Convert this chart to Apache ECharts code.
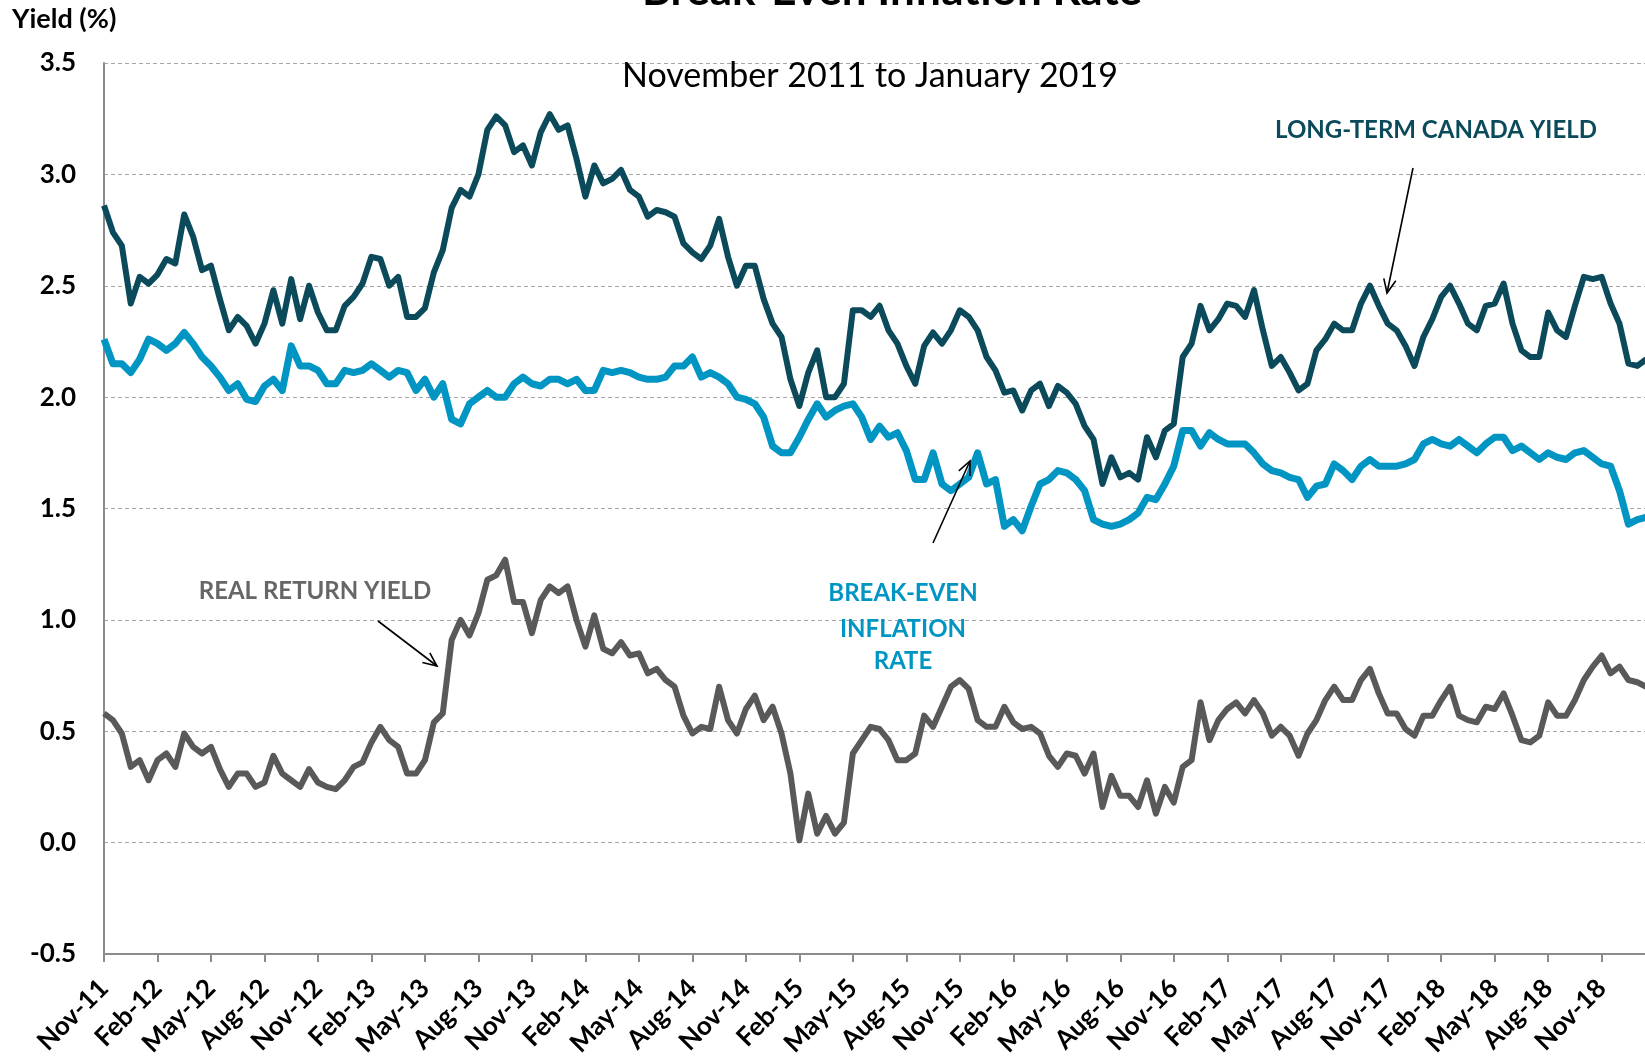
<!DOCTYPE html>
<html>
<head>
<meta charset="utf-8">
<title>Break-Even Inflation Rate</title>
<script src="https://cdn.jsdelivr.net/npm/echarts@6/dist/echarts.min.js"></script>
<style>
  html, body { margin: 0; padding: 0; background: #fff; }
  #chart { width: 1645px; height: 1061px; }
</style>
</head>
<body>
<div id="chart"></div>
<script>
// x tick labels, one every 3 months starting Nov 2011
const tickLabels = [
  'Nov-11', 'Feb-12', 'May-12', 'Aug-12', 'Nov-12', 'Feb-13', 'May-13', 'Aug-13',
  'Nov-13', 'Feb-14', 'May-14', 'Aug-14', 'Nov-14', 'Feb-15', 'May-15', 'Aug-15',
  'Nov-15', 'Feb-16', 'May-16', 'Aug-16', 'Nov-16', 'Feb-17', 'May-17', 'Aug-17',
  'Nov-17', 'Feb-18', 'May-18', 'Aug-18', 'Nov-18'
];

// readings every half month from Nov 2011 (one row = 6 months)
const ltcYield = [
  2.86, 2.74, 2.68, 2.42, 2.54, 2.51, 2.55, 2.62, 2.60, 2.82, 2.72, 2.57,
  2.59, 2.44, 2.30, 2.36, 2.32, 2.24, 2.33, 2.48, 2.33, 2.53, 2.35, 2.50,
  2.38, 2.30, 2.30, 2.41, 2.45, 2.51, 2.63, 2.62, 2.50, 2.54, 2.36, 2.36,
  2.40, 2.56, 2.66, 2.85, 2.93, 2.90, 3.00, 3.20, 3.26, 3.22, 3.10, 3.13,
  3.04, 3.19, 3.27, 3.20, 3.22, 3.07, 2.90, 3.04, 2.96, 2.98, 3.02, 2.93,
  2.90, 2.81, 2.84, 2.83, 2.81, 2.69, 2.65, 2.62, 2.68, 2.80, 2.63, 2.50,
  2.59, 2.59, 2.44, 2.33, 2.27, 2.08, 1.96, 2.11, 2.21, 2.00, 2.00, 2.06,
  2.39, 2.39, 2.36, 2.41, 2.30, 2.24, 2.14, 2.06, 2.23, 2.29, 2.24, 2.30,
  2.39, 2.36, 2.30, 2.18, 2.12, 2.02, 2.03, 1.94, 2.03, 2.06, 1.96, 2.05,
  2.02, 1.97, 1.87, 1.81, 1.61, 1.73, 1.64, 1.66, 1.63, 1.82, 1.73, 1.85,
  1.88, 2.18, 2.24, 2.41, 2.30, 2.35, 2.42, 2.41, 2.36, 2.48, 2.30, 2.14,
  2.18, 2.11, 2.03, 2.06, 2.21, 2.26, 2.33, 2.30, 2.30, 2.42, 2.50, 2.41,
  2.33, 2.30, 2.23, 2.14, 2.27, 2.35, 2.45, 2.50, 2.42, 2.33, 2.30, 2.41,
  2.42, 2.51, 2.33, 2.21, 2.18, 2.18, 2.38, 2.30, 2.27, 2.41, 2.54, 2.53,
  2.54, 2.42, 2.33, 2.15, 2.14, 2.17
];

const breakEven = [
  2.26, 2.15, 2.15, 2.11, 2.17, 2.26, 2.24, 2.21, 2.24, 2.29, 2.24, 2.18,
  2.14, 2.09, 2.03, 2.06, 1.99, 1.98, 2.05, 2.08, 2.03, 2.23, 2.14, 2.14,
  2.12, 2.06, 2.06, 2.12, 2.11, 2.12, 2.15, 2.12, 2.09, 2.12, 2.11, 2.03,
  2.08, 2.00, 2.06, 1.90, 1.88, 1.97, 2.00, 2.03, 2.00, 2.00, 2.06, 2.09,
  2.06, 2.05, 2.08, 2.08, 2.06, 2.08, 2.03, 2.03, 2.12, 2.11, 2.12, 2.11,
  2.09, 2.08, 2.08, 2.09, 2.14, 2.14, 2.18, 2.09, 2.11, 2.09, 2.06, 2.00,
  1.99, 1.97, 1.91, 1.78, 1.75, 1.75, 1.82, 1.90, 1.97, 1.91, 1.94, 1.96,
  1.97, 1.91, 1.81, 1.87, 1.82, 1.84, 1.76, 1.63, 1.63, 1.75, 1.61, 1.58,
  1.61, 1.64, 1.75, 1.61, 1.63, 1.42, 1.45, 1.40, 1.51, 1.61, 1.63, 1.67,
  1.66, 1.63, 1.58, 1.45, 1.43, 1.42, 1.43, 1.45, 1.48, 1.55, 1.54, 1.61,
  1.69, 1.85, 1.85, 1.78, 1.84, 1.81, 1.79, 1.79, 1.79, 1.75, 1.70, 1.67,
  1.66, 1.64, 1.63, 1.55, 1.60, 1.61, 1.70, 1.67, 1.63, 1.69, 1.72, 1.69,
  1.69, 1.69, 1.70, 1.72, 1.79, 1.81, 1.79, 1.78, 1.81, 1.78, 1.75, 1.79,
  1.82, 1.82, 1.76, 1.78, 1.75, 1.72, 1.75, 1.73, 1.72, 1.75, 1.76, 1.73,
  1.70, 1.69, 1.58, 1.43, 1.45, 1.46
];

const realReturn = [
  0.58, 0.55, 0.49, 0.34, 0.37, 0.28, 0.37, 0.40, 0.34, 0.49, 0.43, 0.40,
  0.43, 0.33, 0.25, 0.31, 0.31, 0.25, 0.27, 0.39, 0.31, 0.28, 0.25, 0.33,
  0.27, 0.25, 0.24, 0.28, 0.34, 0.36, 0.45, 0.52, 0.46, 0.43, 0.31, 0.31,
  0.37, 0.54, 0.58, 0.91, 1.00, 0.93, 1.03, 1.18, 1.20, 1.27, 1.08, 1.08,
  0.94, 1.09, 1.15, 1.12, 1.15, 1.00, 0.88, 1.02, 0.87, 0.85, 0.90, 0.84,
  0.85, 0.76, 0.78, 0.73, 0.70, 0.57, 0.49, 0.52, 0.51, 0.70, 0.55, 0.49,
  0.60, 0.66, 0.55, 0.61, 0.49, 0.31, 0.01, 0.22, 0.04, 0.12, 0.04, 0.09,
  0.40, 0.46, 0.52, 0.51, 0.46, 0.37, 0.37, 0.40, 0.57, 0.52, 0.61, 0.70,
  0.73, 0.69, 0.55, 0.52, 0.52, 0.61, 0.54, 0.51, 0.52, 0.49, 0.39, 0.34,
  0.40, 0.39, 0.31, 0.40, 0.16, 0.30, 0.21, 0.21, 0.16, 0.28, 0.13, 0.25,
  0.18, 0.34, 0.37, 0.63, 0.46, 0.55, 0.60, 0.63, 0.58, 0.64, 0.58, 0.48,
  0.52, 0.48, 0.39, 0.49, 0.55, 0.64, 0.70, 0.64, 0.64, 0.73, 0.78, 0.67,
  0.58, 0.58, 0.51, 0.48, 0.57, 0.57, 0.64, 0.70, 0.57, 0.55, 0.54, 0.61,
  0.60, 0.67, 0.57, 0.46, 0.45, 0.48, 0.63, 0.57, 0.57, 0.64, 0.73, 0.79,
  0.84, 0.76, 0.79, 0.73, 0.72, 0.70
];

const STEP = 0.5; // months between readings
const toPoints = values => values.map((v, i) => [i * STEP, v]);

const colors = {
  ltc: '#0a4a5a',
  be: '#0095c2',
  rrb: '#595959',
  axis: '#8c8c8c',
  grid: '#a6a6a6'
};

// thin black arrow: shaft plus open head
function arrow(x1, y1, x2, y2) {
  const ang = Math.atan2(y2 - y1, x2 - x1);
  const len = 15, spread = 0.42;
  const head = [
    [x2 - len * Math.cos(ang - spread), y2 - len * Math.sin(ang - spread)],
    [x2, y2],
    [x2 - len * Math.cos(ang + spread), y2 - len * Math.sin(ang + spread)]
  ];
  return [
    { type: 'line', shape: { x1, y1, x2, y2 }, style: { stroke: '#000', lineWidth: 1.6 }, z: 10 },
    { type: 'polyline', shape: { points: head }, style: { stroke: '#000', lineWidth: 1.6, fill: null }, z: 10 }
  ];
}

function label(text, x, y, fill, size) {
  return {
    type: 'text', x, y, z: 10,
    style: { text, fill, font: `bold ${size}px Lato`, align: 'center', verticalAlign: 'middle' }
  };
}

const chart = echarts.init(document.getElementById('chart'));

const option = {
  animation: false,
  backgroundColor: '#fff',
  grid: { left: 104, right: 0, top: 63, bottom: 107, containLabel: false },
  xAxis: {
    type: 'value',
    min: 0,
    max: 86.43,
    interval: 3,
    axisLine: { onZero: false, lineStyle: { color: colors.axis, width: 2 } },
    axisTick: { show: true, length: 8, lineStyle: { color: colors.axis, width: 2 } },
    splitLine: { show: false },
    axisLabel: {
      rotate: 45,
      margin: 30,
      showMaxLabel: false,
      color: '#000',
      fontFamily: 'Lato',
      fontWeight: 'bold',
      fontSize: 26,
      formatter: v => {
        const k = Math.round(v / 3);
        return Math.abs(v - k * 3) < 1e-6 ? (tickLabels[k] || '') : '';
      }
    }
  },
  yAxis: {
    type: 'value',
    min: -0.5,
    max: 3.5,
    interval: 0.5,
    axisLine: { show: true, lineStyle: { color: colors.axis, width: 2 } },
    axisTick: { show: false },
    splitLine: { show: true, lineStyle: { color: colors.grid, type: [4, 3], width: 1 } },
    axisLabel: {
      margin: 28,
      color: '#000',
      fontFamily: 'Lato',
      fontWeight: 'bold',
      fontSize: 26,
      formatter: v => v.toFixed(1)
    }
  },
  series: [
    {
      name: 'Long-Term Canada Yield',
      type: 'line',
      data: toPoints(ltcYield),
      showSymbol: false,
      lineStyle: { color: colors.ltc, width: 6, join: 'round' },
      z: 2
    },
    {
      name: 'Break-Even Inflation Rate',
      type: 'line',
      data: toPoints(breakEven),
      showSymbol: false,
      lineStyle: { color: colors.be, width: 7, join: 'round' },
      z: 3
    },
    {
      name: 'Real Return Yield',
      type: 'line',
      data: toPoints(realReturn),
      showSymbol: false,
      lineStyle: { color: colors.rrb, width: 6, join: 'round' },
      z: 4
    }
  ],
  graphic: [
    {
      type: 'text', x: 892, y: -9, z: 10,
      style: { text: 'Break-Even Inflation Rate', fill: '#000', font: 'bold 44px Lato', align: 'center', verticalAlign: 'middle' }
    },
    {
      type: 'text', x: 870, y: 76, z: 10,
      style: { text: 'November 2011 to January 2019', fill: '#000', font: '34px Lato', align: 'center', verticalAlign: 'middle' }
    },
    {
      type: 'text', x: 12, y: 19, z: 10,
      style: { text: 'Yield (%)', fill: '#000', font: 'bold 27px Lato', align: 'left', verticalAlign: 'middle' }
    },
    label('LONG-TERM CANADA YIELD', 1436, 130, colors.ltc, 24),
    label('REAL RETURN YIELD', 315, 591, '#666666', 24),
    label('BREAK-EVEN', 903, 593, colors.be, 24),
    label('INFLATION', 903, 629, colors.be, 24),
    label('RATE', 903, 661, colors.be, 24),
    ...arrow(1413, 168, 1387, 293),
    ...arrow(933, 543, 970, 461),
    ...arrow(378, 621, 437, 666)
  ]
};

chart.setOption(option);
</script>
</body>
</html>
